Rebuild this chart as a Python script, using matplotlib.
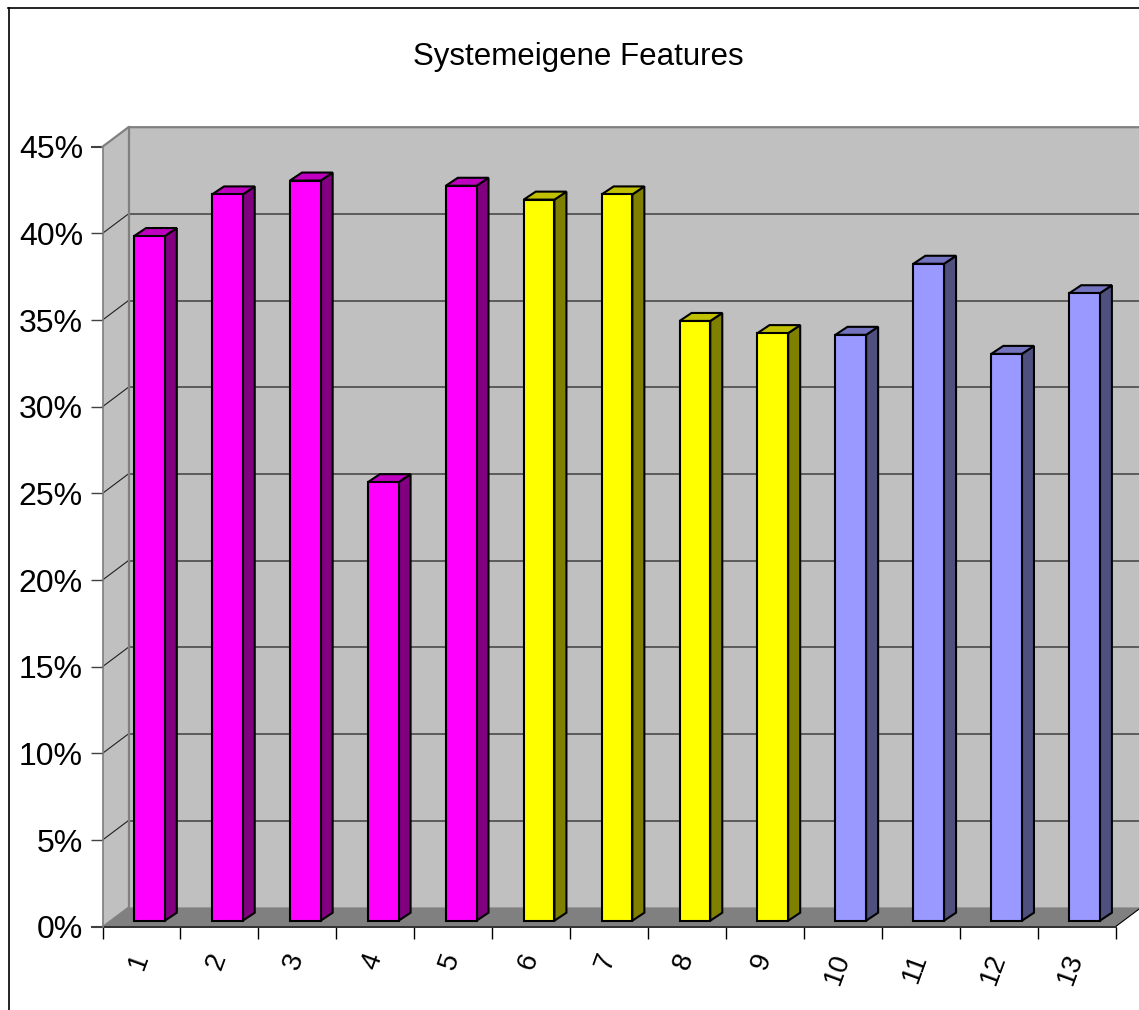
import matplotlib
matplotlib.use('Agg')
import matplotlib.pyplot as plt
from matplotlib.patches import Polygon
from matplotlib.lines import Line2D

plt.rcParams['font.family'] = ['Liberation Sans', 'DejaVu Sans']

# feature numbers and their share in percent
categories = list(range(1, 14))
values = [39.5, 41.9, 42.7, 25.3, 42.4, 41.6, 41.9, 34.6, 33.9, 33.8, 37.9, 32.7, 36.2]
# (front, side, top) colour of each bar group
group_colours = [('#FF00FF', '#800080', '#C000C0')] * 5 \
    + [('#FFFF00', '#808000', '#C0C000')] * 4 \
    + [('#9999FF', '#50507F', '#7373BF')] * 4
y_ticks = list(range(0, 50, 5))
title = 'Systemeigene Features'

W, H = 1139, 1010
# front plane of the 3d box in pixels
left, right, top, bottom = 102.5, 1115.5, 146.7, 926.7

fig = plt.figure(figsize=(W / 100, H / 100), dpi=100)
ax = fig.add_axes([left / W, 1 - bottom / H, (right - left) / W, (bottom - top) / H])
ax.set_xlim(0.5, 13.5)
ax.set_ylim(0, 45)
ax.patch.set_visible(False)

px_x = 13 / (right - left)
px_y = 45 / (bottom - top)
# box depth, and where the bars sit inside it
depth_x, depth_y = 26 * px_x, 19.5 * px_y
bar_x, bar_y = 8 * px_x, 6 * px_y
side_x, side_y = 12 * px_x, 8 * px_y
bar_w = 30.7 * px_x


def poly(pts, fc, ec='none', lw=0, z=1):
    ax.add_patch(Polygon(pts, closed=True, fc=fc, ec=ec, lw=lw, zorder=z,
                         clip_on=False, joinstyle='miter'))


# walls and floor
poly([(0.5, 0), (0.5 + depth_x, depth_y), (0.5 + depth_x, 45 + depth_y), (0.5, 45)],
     '#C0C0C0', z=1)
poly([(0.5 + depth_x, depth_y), (13.5 + depth_x, depth_y),
      (13.5 + depth_x, 45 + depth_y), (0.5 + depth_x, 45 + depth_y)], '#C0C0C0', z=1)
poly([(0.5, 0), (13.5, 0), (13.5 + depth_x, depth_y), (0.5 + depth_x, depth_y)], '#808080', z=1)

# gridlines on the side wall and the back wall
for t in y_ticks[1:-1]:
    ax.plot([0.5, 0.5 + depth_x], [t, t + depth_y], color='#202020', lw=0.8, zorder=2, clip_on=False)
    ax.plot([0.5 + depth_x, 13.5 + depth_x], [t + depth_y, t + depth_y],
            color='#404040', lw=1.1, zorder=2, clip_on=False)

# box outline
grey = '#808080'
ax.plot([0.5, 0.5 + depth_x, 13.5 + depth_x], [45, 45 + depth_y, 45 + depth_y],
        color=grey, lw=1.6, zorder=2, clip_on=False)
ax.plot([0.5 + depth_x, 0.5 + depth_x], [depth_y, 45 + depth_y],
        color=grey, lw=1.6, zorder=2, clip_on=False)
ax.plot([0.5, 0.5 + depth_x], [0, depth_y], color=grey, lw=1, zorder=2)
ax.plot([13.5, 13.5 + depth_x], [0, depth_y], color='black', lw=0.8, zorder=2, clip_on=False)

# bars: side and top faces first, the front on top
for x, v, (front, side, cap) in zip(categories, values, group_colours):
    x0 = x + bar_x - bar_w / 2
    x1 = x + bar_x + bar_w / 2
    poly([(x1, bar_y), (x1 + side_x, bar_y + side_y), (x1 + side_x, bar_y + side_y + v), (x1, bar_y + v)],
         side, 'black', 1.5, 3)
    poly([(x0, bar_y + v), (x1, bar_y + v), (x1 + side_x, bar_y + side_y + v), (x0 + side_x, bar_y + side_y + v)],
         cap, 'black', 1.5, 3)
    poly([(x0, bar_y), (x1, bar_y), (x1, bar_y + v), (x0, bar_y + v)], front, 'black', 1.5, 4)

for name in ('top', 'right'):
    ax.spines[name].set_visible(False)
ax.spines['left'].set_color(grey)
ax.spines['left'].set_linewidth(1.2)
ax.spines['bottom'].set_color('#303030')
ax.spines['bottom'].set_linewidth(1.4)
ax.spines['bottom'].set_zorder(2)

ax.set_yticks(y_ticks)
ax.set_yticklabels([f'{t}%' for t in y_ticks], fontsize=23, color='black')
ax.tick_params(axis='y', length=8.6, width=1, color='#404040', pad=5.5)
for i in (0, -1):
    ax.yaxis.get_major_ticks()[i].tick1line.set_color(grey)
    ax.yaxis.get_major_ticks()[i].tick1line.set_markeredgewidth(1.5)
ax.set_xticks([c - 0.5 for c in categories] + [13.5])
ax.set_xticklabels([])
ax.tick_params(axis='x', length=8.6, width=1, color='black')
for x in categories:
    ax.annotate(str(x), (x, 0), xytext=(12, -23), textcoords='offset pixels', ha='right', va='top',
                rotation=70, fontsize=20, annotation_clip=False)

fig.text(578 / W, 1 - 57 / H, title, ha='center', va='center', fontsize=22.5)

# outer chart border
fig.add_artist(Line2D([8.5 / W, 8.5 / W], [0, 1 - 8 / H], color='black', lw=1.2))
fig.add_artist(Line2D([8 / W, 1], [1 - 8 / H, 1 - 8 / H], color='black', lw=1.2))

fig.savefig('out.png', dpi=100)
